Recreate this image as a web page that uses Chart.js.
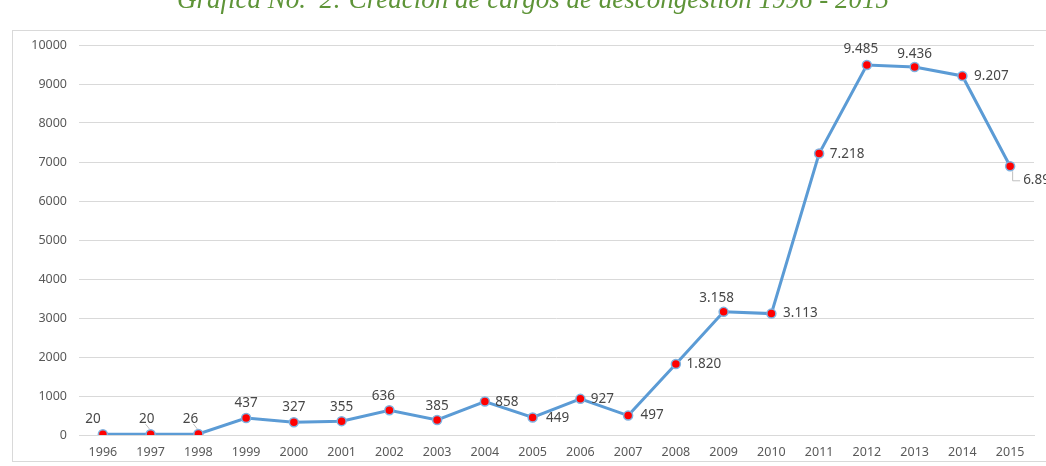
<!DOCTYPE html>
<html>
<head>
<meta charset="utf-8">
<script src="https://cdn.jsdelivr.net/npm/chart.js@4"></script>
<style>
  body { margin: 0; background: #fff; overflow: hidden; }
  #wrap { position: absolute; left: 0; top: 0; width: 1046px; height: 466px; }
  #title {
    position: absolute; left: 0; width: 1066px; top: -14px; text-align: center;
    font-family: "Liberation Serif", serif; font-style: italic; font-size: 27px;
    line-height: 27px; color: #5e9438; white-space: pre;
  }
</style>
</head>
<body>
<div id="wrap"><canvas id="chLine" width="1046" height="466"></canvas></div>
<div id="title">Gráfica No.  2: Creación de cargos de descongestión 1996 - 2015</div>
<script>
// data
var years = ['1996','1997','1998','1999','2000','2001','2002','2003','2004','2005',
             '2006','2007','2008','2009','2010','2011','2012','2013','2014','2015'];
var cargos = [20, 20, 26, 437, 327, 355, 636, 385, 858, 449,
              927, 497, 1820, 3158, 3113, 7218, 9485, 9436, 9207, 6890];
var yTicks = [0, 1000, 2000, 3000, 4000, 5000, 6000, 7000, 8000, 9000, 10000];

// label offsets from the point (dx, dy), plus leader line flag
var labelPos = [
  [-10,-15,0], [-4,-15,1], [-8,-15,1], [0,-15,0], [0,-15,0], [0,-14,0], [-6,-14,0], [0,-14,0],
  [22,1,0], [25,1,0], [22,0,0], [24,0,0], [28,0,0], [-7,-14,0], [29,0,0], [28,1,0],
  [-6,-16,0], [0,-13,0], [29,0,0], [13,14,2]
];

function fmt(n) {
  return String(n).replace(/\B(?=(\d{3})+(?!\d))/g, '.');
}

// outer frame
var framePlugin = {
  id: 'frame',
  beforeDraw: function(chart) {
    var c = chart.ctx;
    c.save();
    c.strokeStyle = '#d9d9d9';
    c.lineWidth = 1;
    c.strokeRect(12.5, 30.5, 1040, 431);
    c.restore();
  }
};

// value labels
var labelPlugin = {
  id: 'vals',
  afterDatasetsDraw: function(chart) {
    var c = chart.ctx;
    var meta = chart.getDatasetMeta(0);
    c.save();
    c.font = '13.5px "Noto Sans", sans-serif';
    c.fillStyle = '#474747';
    c.textBaseline = 'middle';
    meta.data.forEach(function(pt, i) {
      var p = labelPos[i];
      var x = pt.x + p[0], y = pt.y + p[1];
      c.textAlign = 'center';
      if (p[2] === 1) {
        c.strokeStyle = '#bfbfbf';
        c.lineWidth = 1;
        c.beginPath();
        c.moveTo(pt.x - 1, pt.y - 5);
        c.lineTo(pt.x - 5, pt.y - 10);
        c.stroke();
      } else if (p[2] === 2) {
        c.strokeStyle = '#bfbfbf';
        c.lineWidth = 1;
        c.beginPath();
        c.moveTo(pt.x + 2.5, pt.y + 5);
        c.lineTo(pt.x + 2.5, pt.y + 14.5);
        c.lineTo(pt.x + 10, pt.y + 14.5);
        c.stroke();
        c.textAlign = 'left';
      }
      c.fillText(fmt(cargos[i]), x, y);
    });
    c.restore();
  }
};

var ctx = document.getElementById('chLine');
new Chart(ctx, {
  type: 'line',
  data: {
    labels: years,
    datasets: [{
      data: cargos,
      borderColor: '#5b9bd5',
      borderWidth: 3,
      pointBackgroundColor: '#ff0000',
      pointBorderColor: '#7fb2e0',
      pointBorderWidth: 1.5,
      pointRadius: 4.5,
      tension: 0
    }]
  },
  options: {
    responsive: false,
    animation: false,
    layout: { padding: { left: 12, right: 12, top: 45, bottom: 5 } },
    plugins: { legend: { display: false }, tooltip: { enabled: false } },
    scales: {
      x: {
        offset: true,
        grid: { display: false, drawTicks: false },
        border: { color: '#d9d9d9' },
        ticks: { color: '#595959', font: { size: 12.5, family: '"Noto Sans", sans-serif' }, padding: 10, maxRotation: 0, autoSkip: false },
        afterFit: function(s) { s.height = 26; }
      },
      y: {
        min: 0, max: 10000,
        afterBuildTicks: function(s) { s.ticks = yTicks.map(function(v) { return { value: v }; }); },
        grid: { color: '#d9d9d9', drawTicks: false },
        border: { display: false },
        ticks: {
          color: '#595959', font: { size: 12.5, family: '"Noto Sans", sans-serif' }, padding: 12,
          callback: function(v) { return String(v); }
        },
        afterFit: function(s) { s.width = 67; }
      }
    }
  },
  plugins: [framePlugin, labelPlugin]
});
</script>
</body>
</html>
